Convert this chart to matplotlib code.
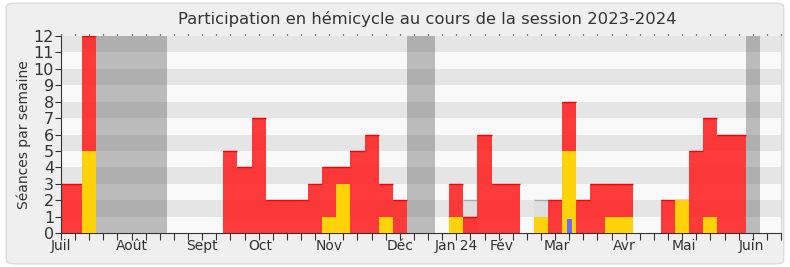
import numpy as np
import matplotlib
matplotlib.use("Agg")
import matplotlib.pyplot as plt
from matplotlib.patches import FancyBboxPatch
from matplotlib.transforms import blended_transform_factory

# Semaines de la session (0 = premiere semaine pleine de juillet 2023, -1 = semaine partielle)
semaines = np.arange(-1, 48)
presence = [3, 12, 0, 0, 0, 0, 0, 0, 0, 0, 0, 5, 4, 7, 2, 2, 2, 3, 4, 4, 5, 6, 3, 2,
            0, 0, 0, 3, 1, 6, 3, 3, 0, 0, 2, 8, 2, 3, 3, 3, 0, 0, 2, 2, 5, 7, 6, 6, 0]
interventions = [0, 5, 0, 0, 0, 0, 0, 0, 0, 0, 0, 0, 0, 0, 0, 0, 0, 0, 1, 3, 0, 0, 1, 0,
                 0, 0, 0, 1, 0, 0, 0, 0, 0, 1, 0, 5, 0, 0, 1, 1, 0, 0, 0, 2, 0, 1, 0, 0, 0]
questions = [0] * 35 + [0.85] + [0] * 13
seances_hemicycle = [0] * 28 + [2] + [0] * 4 + [2] + [0] * 15
vacances = [1, 2, 3, 4, 5, 23, 24, 47]

mois = ["Juil", "Août", "Sept", "Oct", "Nov", "Déc", "Jan 24", "Fév", "Mar", "Avr", "Mai", "Juin"]
pos_mois = [-1.5, 3.5, 8.5, 12.6, 17.5, 22.5, 26.5, 29.7, 33.6, 38.4, 42.6, 47.4]

xmin, xmax = -1.5, 49.5
# la premiere semaine (partielle) commence au bord gauche du graphique
gauche = np.where(semaines == semaines[0], xmin, semaines).astype(float)
largeur = semaines + 1 - gauche

fig = plt.figure(figsize=(7.9, 2.67), dpi=100)
fig.patch.set_facecolor("white")
cadre = FancyBboxPatch((0.008, 0.012), 0.984, 0.976, boxstyle="round,pad=0,rounding_size=0.012",
                       transform=fig.transFigure, facecolor="#efefef", edgecolor="#dcdcdc",
                       linewidth=1, zorder=-10)
fig.patches.append(cadre)

ax = fig.add_axes([0.0772, 0.1273, 0.9114, 0.7379])
ax.set_facecolor("#f9f9f9")
for y in range(1, 12, 2):
    ax.axhspan(y, y + 1, color="#e5e5e5", lw=0, zorder=0)

# seances en hemicycle (gris clair)
ax.bar(gauche, seances_hemicycle, width=largeur, align="edge", color="#dedede",
       edgecolor="none", zorder=1)
for g, l, h in zip(gauche, largeur, seances_hemicycle):
    if h > 0:
        ax.plot([g, g + l], [h, h], color="#aaaaaa", lw=1, zorder=1.5, solid_capstyle="butt")

# presences
ax.bar(gauche, presence, width=largeur, align="edge", color="#ff1a1a", alpha=0.85,
       edgecolor="none", zorder=2)
for g, l, h in zip(gauche, largeur, presence):
    if h > 0:
        ax.plot([g, g + l], [h, h], color="#ff0000", lw=1, zorder=2.5, solid_capstyle="butt")

# interventions
ax.bar(gauche, interventions, width=largeur, align="edge", color="#ffd20a",
       edgecolor="none", zorder=3)
# questions orales
ax.bar(semaines + 0.5, questions, width=0.35, color="#6a6aff", edgecolor="none", zorder=4)

# vacances parlementaires
for v in vacances:
    ax.axvspan(v, v + 1, color="#606060", alpha=0.4, lw=0, zorder=5)

ax.set_xlim(xmin, xmax)
ax.set_ylim(0, 12)
ax.set_yticks(range(0, 13))
ax.tick_params(axis="y", labelsize=11.5, colors="#333333", length=4, pad=1)
ax.set_xticks(np.arange(xmin, xmax + 0.01, 1))
ax.set_xticklabels([])
ax.tick_params(axis="x", which="major", bottom=True, length=5, color="#333333", direction="out")

# petits points en haut du graphique
trans = blended_transform_factory(ax.transData, ax.transAxes)
for t in np.arange(xmin, xmax + 0.01, 1):
    ax.plot([t, t], [1.003, 1.009], color="#111111", lw=0.9, transform=trans,
            clip_on=False, solid_capstyle="butt")

for m, p in zip(mois, pos_mois):
    ax.text(p, -0.03, m, transform=trans, ha="center", va="top", fontsize=10, color="#333333")

for s in ["left", "bottom"]:
    ax.spines[s].set_color("#333333")
ax.spines["top"].set_visible(False)
ax.spines["right"].set_color("#d8d8d8")

ax.set_ylabel("Séances par semaine", fontsize=10, color="#333333", labelpad=2)
fig.text(0.541, 0.93, "Participation en hémicycle au cours de la session 2023-2024",
         ha="center", va="center", fontsize=11.8, color="#333333")

fig.savefig("out.png", dpi=100, facecolor=fig.get_facecolor())
